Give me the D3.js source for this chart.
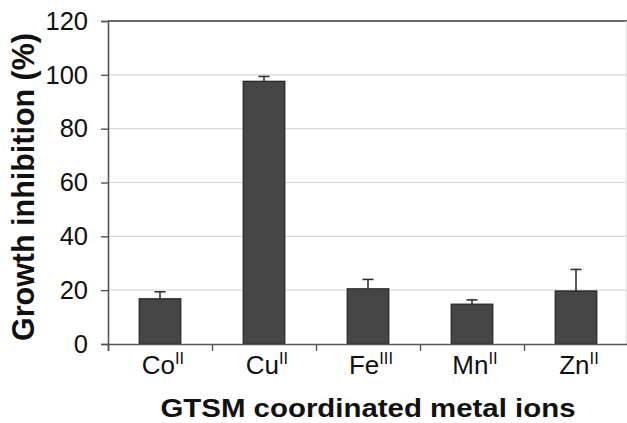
<!DOCTYPE html>
<html>
<head>
<meta charset="utf-8">
<script src="https://cdn.jsdelivr.net/npm/d3@7"></script>
<style>
  html, body { margin: 0; padding: 0; background: #fff; }
  svg { display: block; font-family: Arial, "Liberation Sans", sans-serif; }
</style>
</head>
<body>
<svg id="chart" width="627" height="423"></svg>
<script>
// Growth inhibition by GTSM complexes of different metal ions
const metals = ["Co", "Cu", "Fe", "Mn", "Zn"];
const oxidation = ["II", "II", "III", "II", "II"];
const inhibition = [16.8, 97.6, 20.5, 14.8, 19.7];
const errorUp = [2.6, 1.8, 3.5, 1.6, 8.0];
const yTicks = [0, 20, 40, 60, 80, 100, 120];

const svg = d3.select("#chart");
const plotLeft = 108, plotRight = 628, plotTop = 21, plotBottom = 344;

const y = d3.scaleLinear().domain([0, 120]).range([plotBottom, plotTop]);
const x = d3.scaleBand().domain(metals).range([plotLeft, plotRight])
  .paddingInner(0.6).paddingOuter(0.3);
const edge = d3.scaleLinear().domain([0, metals.length]).range([plotLeft, plotRight]);

// horizontal gridlines
svg.append("g").selectAll("line").data(yTicks.filter(t => t > 0 && t < 120)).join("line")
  .attr("x1", plotLeft).attr("x2", 626)
  .attr("y1", d => y(d)).attr("y2", d => y(d))
  .attr("stroke", "#d9d9d9").attr("stroke-width", 1.2);

// plot frame: dark top edge, faint right edge
svg.append("line").attr("x1", plotLeft).attr("x2", 627).attr("y1", y(120)).attr("y2", y(120))
  .attr("stroke", "#6b6b6b").attr("stroke-width", 2);
svg.append("line").attr("x1", 626).attr("x2", 626).attr("y1", y(120)).attr("y2", plotBottom)
  .attr("stroke", "#dcdcdc").attr("stroke-width", 1);

// error bars (upper only)
const eb = svg.append("g").attr("stroke", "#333").attr("stroke-width", 1.6);
metals.forEach((m, i) => {
  const cx = x(m) + x.bandwidth() / 2;
  eb.append("line").attr("x1", cx).attr("x2", cx)
    .attr("y1", y(inhibition[i])).attr("y2", y(inhibition[i] + errorUp[i]));
  eb.append("line").attr("x1", cx - 5.5).attr("x2", cx + 5.5)
    .attr("y1", y(inhibition[i] + errorUp[i])).attr("y2", y(inhibition[i] + errorUp[i]));
});

// bars
svg.append("g").selectAll("rect").data(metals).join("rect")
  .attr("x", d => x(d))
  .attr("y", (d, i) => y(inhibition[i]))
  .attr("width", x.bandwidth())
  .attr("height", (d, i) => plotBottom - y(inhibition[i]))
  .attr("fill", "#454545").attr("stroke", "#222").attr("stroke-width", 1.2);

// y axis
const yAxis = svg.append("g").attr("transform", `translate(${plotLeft},0)`)
  .call(d3.axisLeft(y).tickValues(yTicks).tickSize(7).tickPadding(13));
yAxis.select(".domain").attr("stroke", "#555").attr("stroke-width", 1.6);
yAxis.selectAll(".tick line").attr("stroke", "#555").attr("stroke-width", 1.4);
yAxis.selectAll(".tick text").attr("font-size", 25.5).attr("fill", "#111")
  .attr("font-family", "Arial, 'Liberation Sans', sans-serif");

// x axis with ticks between categories
const xAxis = svg.append("g").attr("transform", `translate(0,${plotBottom})`)
  .call(d3.axisBottom(edge).tickValues(d3.range(metals.length + 1)).tickSize(7).tickFormat(""));
xAxis.select(".domain").attr("stroke", "#555").attr("stroke-width", 1.6);
xAxis.selectAll(".tick line").attr("stroke", "#555").attr("stroke-width", 1.4);

// category labels with superscript oxidation states
const lab = svg.append("g").selectAll("text").data(metals).join("text")
  .attr("x", d => x(d) + x.bandwidth() / 2 + 3)
  .attr("y", 374)
  .attr("text-anchor", "middle")
  .attr("font-size", 26).attr("fill", "#111");
lab.append("tspan").text(d => d);
lab.append("tspan").attr("font-size", 16.5).attr("dy", -10).text((d, i) => oxidation[i]);

// axis titles
svg.append("text")
  .attr("x", 368).attr("y", 417)
  .attr("text-anchor", "middle").attr("font-weight", "bold")
  .attr("font-size", 26.5).attr("fill", "#111")
  .attr("textLength", 415).attr("lengthAdjust", "spacingAndGlyphs")
  .text("GTSM coordinated metal ions");

svg.append("text")
  .attr("transform", "translate(33.5,187) rotate(-90)")
  .attr("text-anchor", "middle").attr("font-weight", "bold")
  .attr("font-size", 31.5).attr("fill", "#111")
  .attr("textLength", 308).attr("lengthAdjust", "spacingAndGlyphs")
  .text("Growth inhibition (%)");
</script>
</body>
</html>
